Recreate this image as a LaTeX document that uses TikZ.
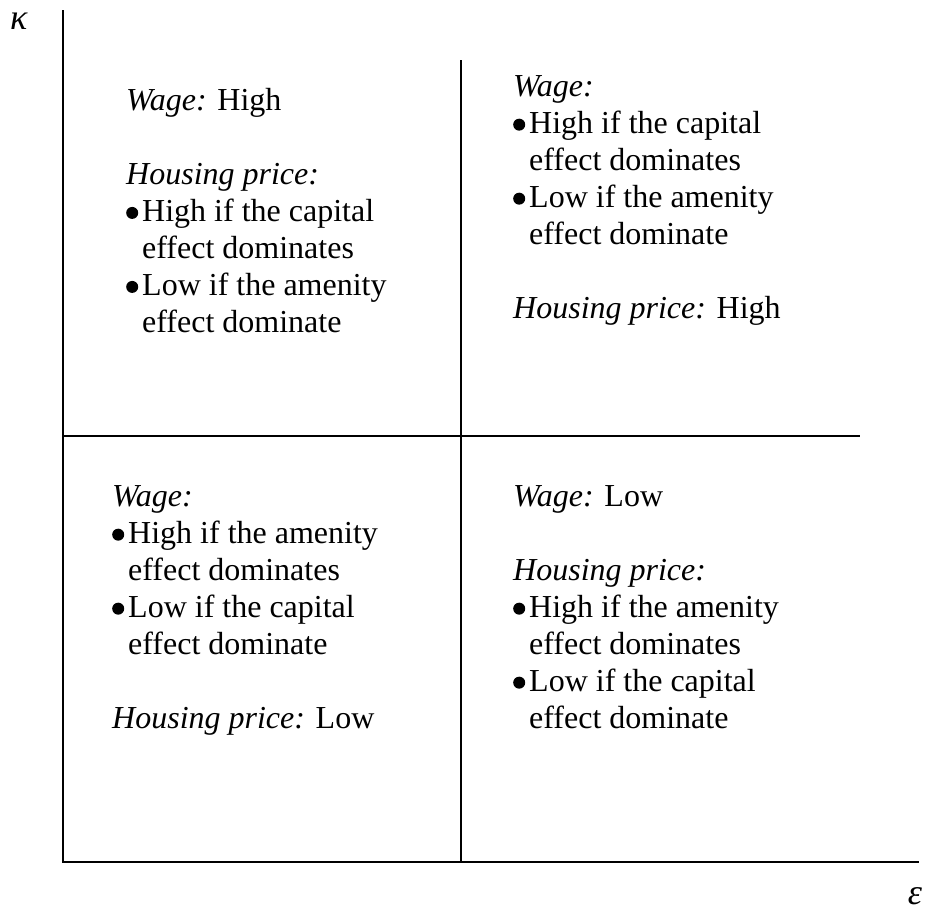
\documentclass[tikz,border=0pt]{standalone}
\usepackage{fontspec}
\setmainfont{Liberation Serif}

\newlength\bind \setlength\bind{16pt}
\newcommand\dotb{\tikz[baseline]\fill (6pt,8.5pt) circle (6pt);}
\newcommand\bul[2]{\makebox[\bind][l]{\dotb}#1\\\hspace*{\bind}#2}

\begin{document}
\begin{tikzpicture}[x=1pt,y=-1pt,line width=1.5pt,
    every node/.style={font=\fontsize{32}{37}\selectfont},
    cell/.style={anchor=north west,align=left,inner sep=0pt}]
\useasboundingbox (0,0) rectangle (927,916);

% axes and the cross
\draw (63,10) coordinate (top) -- (63,862) coordinate (orig)
    -- (919,862) coordinate (right);
\draw (461,60) coordinate (midt) -- (midt |- orig) coordinate (midb);
\draw (orig |- 0,436) coordinate (midl) -- (860,436) coordinate (midr);
\node (kap) at (19,21) {\fontsize{36}{37}\selectfont\textit{κ}};
\node (eps) at (915,896) {\fontsize{36}{37}\selectfont\textit{ε}};

% the four cells
\node (nw) [cell] at (126,88) {\textit{Wage:} High\\[37pt]
    \textit{Housing price:}\\
    \bul{High if the capital}{effect dominates}\\
    \bul{Low if the amenity}{effect dominate}};
\node (ne) [cell] at (513,75) {\textit{Wage:}\\
    \bul{High if the capital}{effect dominates}\\
    \bul{Low if the amenity}{effect dominate}\\[37pt]
    \textit{Housing price:} High};
\node (sw) [cell] at (112,485) {\textit{Wage:}\\
    \bul{High if the amenity}{effect dominates}\\
    \bul{Low if the capital}{effect dominate}\\[37pt]
    \textit{Housing price:} Low};
\node (se) [cell] at (513,485) {\textit{Wage:} Low\\[37pt]
    \textit{Housing price:}\\
    \bul{High if the amenity}{effect dominates}\\
    \bul{Low if the capital}{effect dominate}};
\end{tikzpicture}
\end{document}
